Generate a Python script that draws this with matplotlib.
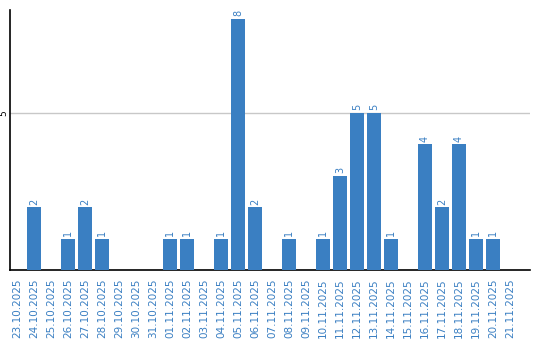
import matplotlib.pyplot as plt

DATES = [
    "23.10.2025", "24.10.2025", "25.10.2025", "26.10.2025", "27.10.2025",
    "28.10.2025", "29.10.2025", "30.10.2025", "31.10.2025", "01.11.2025",
    "02.11.2025", "03.11.2025", "04.11.2025", "05.11.2025", "06.11.2025",
    "07.11.2025", "08.11.2025", "09.11.2025", "10.11.2025", "11.11.2025",
    "12.11.2025", "13.11.2025", "14.11.2025", "15.11.2025", "16.11.2025",
    "17.11.2025", "18.11.2025", "19.11.2025", "20.11.2025", "21.11.2025",
]
COUNTS = [0, 2, 0, 1, 2, 1, 0, 0, 0, 1, 1, 0, 1, 8, 2, 0, 1, 0, 1, 3,
          5, 5, 1, 0, 4, 2, 4, 1, 1, 0]
Y_TICKS = [5]

BLUE = "#3a7fc2"


def main() -> None:
    fig = plt.figure(figsize=(5.4, 3.4), dpi=100)
    ax = fig.add_axes([0.0194, 0.206, 0.962, 0.765])

    x = list(range(len(DATES)))
    bars = ax.bar(x, COUNTS, width=0.82, color=BLUE, zorder=3)
    for rect, val in zip(bars, COUNTS):
        if val == 0:
            continue
        ax.text(rect.get_x() + rect.get_width() / 2, val + 0.08, str(val),
                rotation=90, ha="center", va="bottom", fontsize=7, color=BLUE)

    ax.set_xlim(-0.38, 30.18)
    ax.set_ylim(0, 8.28)
    ax.set_xticks(x)
    ax.set_xticklabels(DATES, rotation=90, fontsize=7.5, color=BLUE)
    ax.set_yticks(Y_TICKS)
    ax.set_yticklabels([str(t) for t in Y_TICKS], rotation=90, fontsize=6.5,
                       va="center")
    ax.tick_params(axis="both", length=0)
    ax.tick_params(axis="x", pad=6)
    ax.tick_params(axis="y", pad=1.5)
    ax.grid(axis="y", color="#c8c8c8", linewidth=1, zorder=0)

    ax.spines["top"].set_visible(False)
    ax.spines["right"].set_visible(False)
    ax.spines["left"].set_linewidth(1.2)
    ax.spines["bottom"].set_linewidth(1.2)

    fig.savefig("out.png", dpi=100)
    plt.close(fig)


if __name__ == "__main__":
    main()
